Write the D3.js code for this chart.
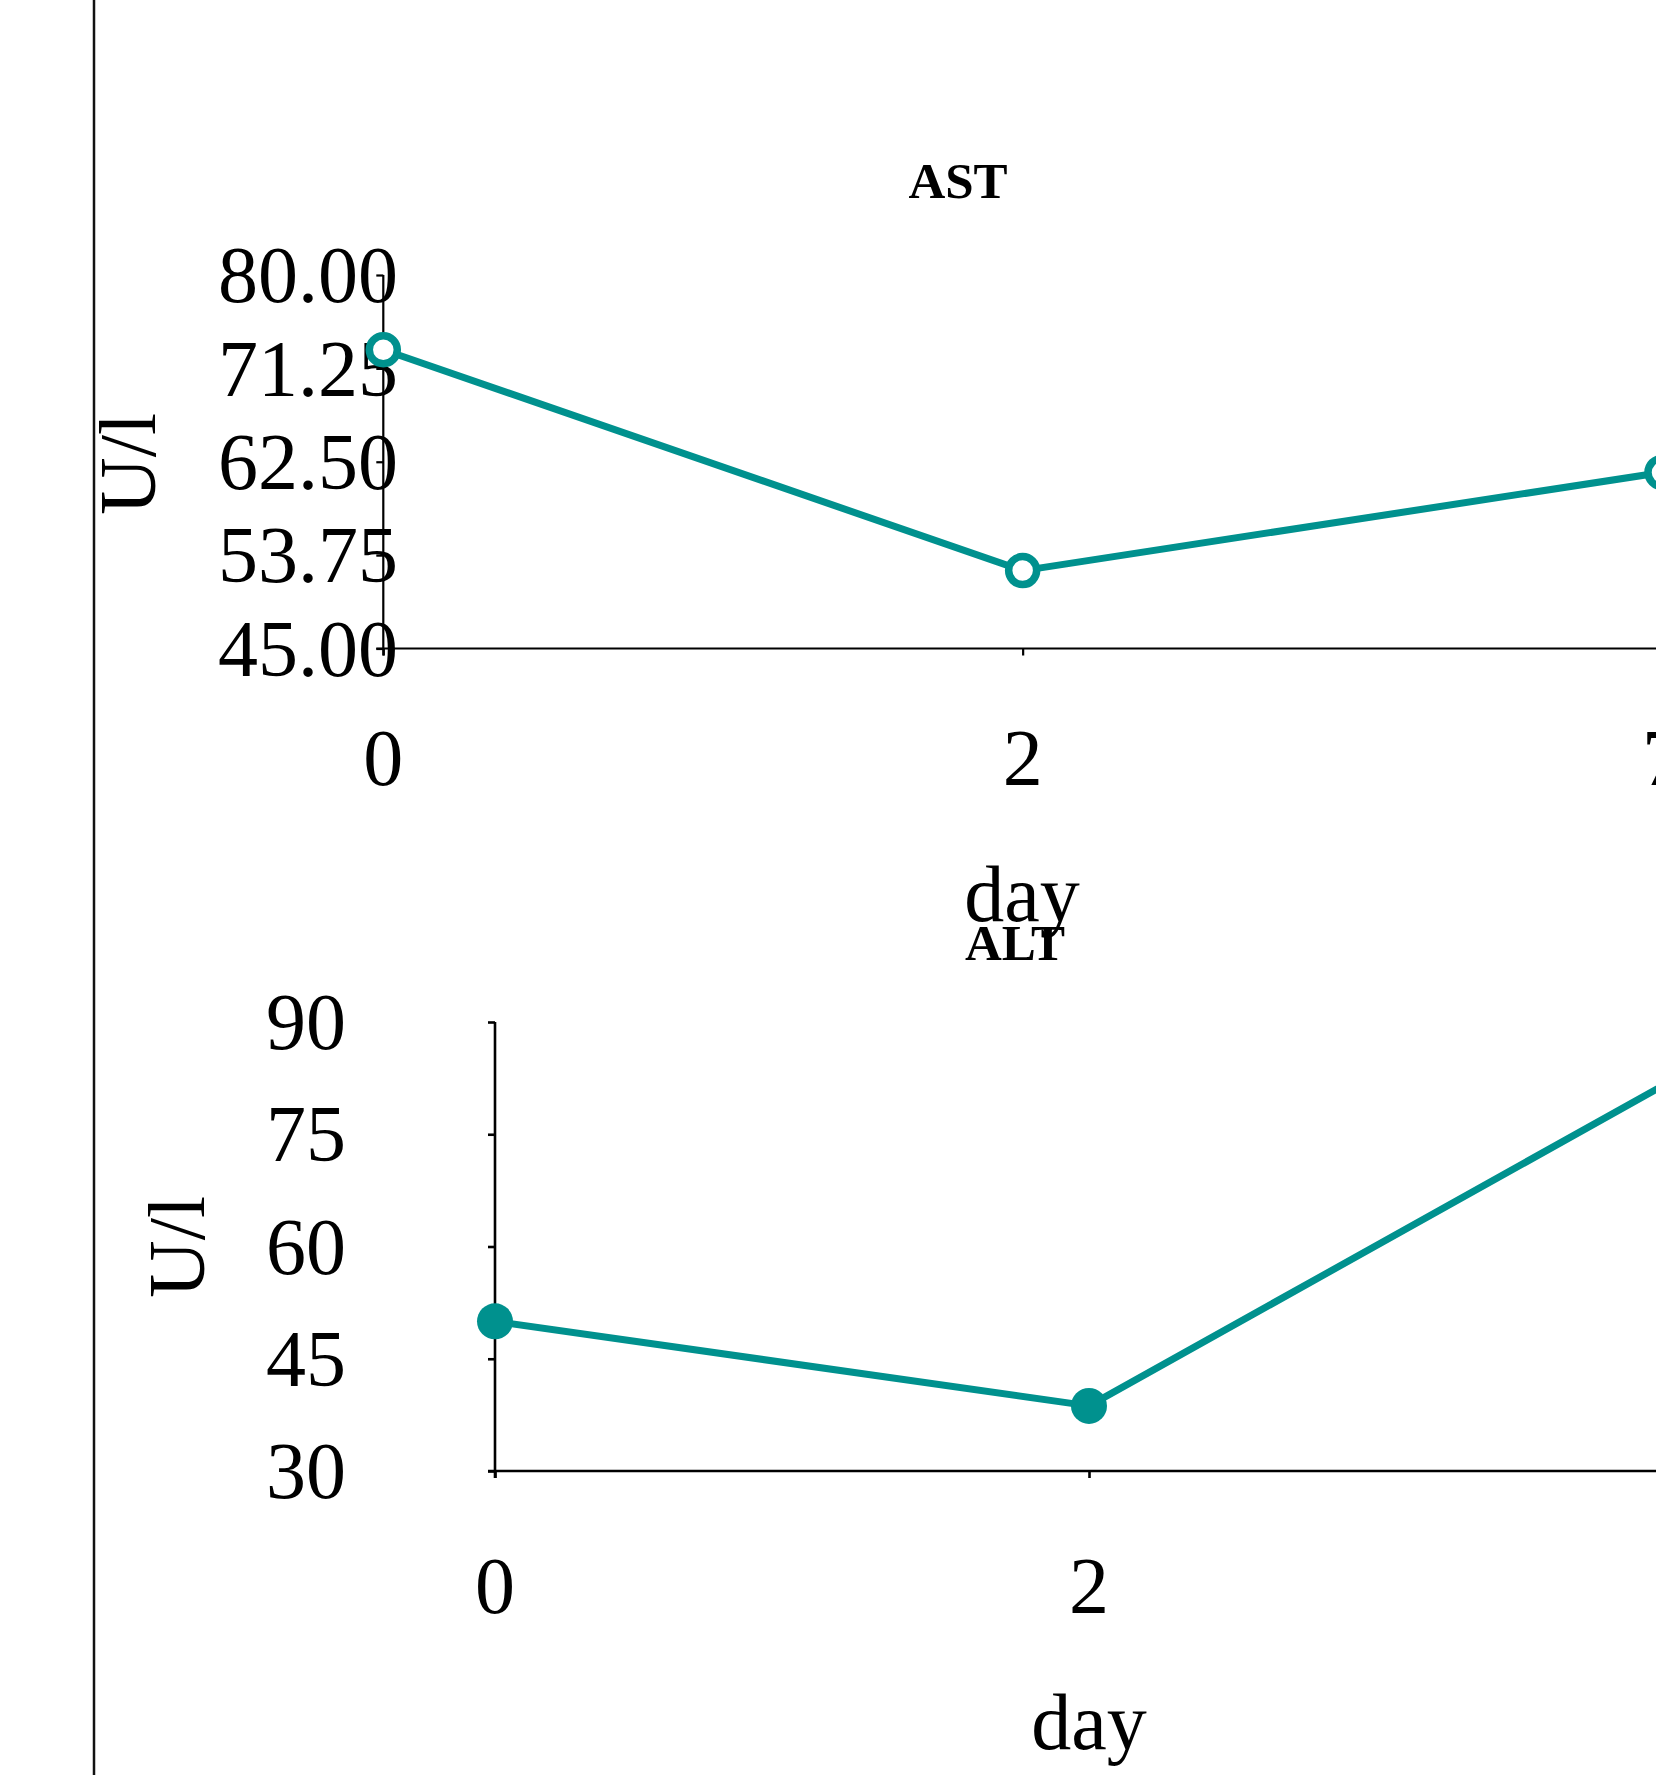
<!DOCTYPE html>
<html>
<head>
<meta charset="utf-8">
<script src="https://cdn.jsdelivr.net/npm/d3@7/dist/d3.min.js"></script>
<style>
  html, body { margin: 0; padding: 0; background: #ffffff; overflow: hidden; }
  svg { display: block; }
  text { font-family: "Liberation Serif", "Times New Roman", serif; fill: #000; }
</style>
</head>
<body>
<svg id="chart" width="1656" height="1775"></svg>
<script>
// Sampling days (categorical x positions)
const days = ["0", "2", "7"];

// AST (U/l) per day
const astValues = [73.0, 52.3, 61.5];
const astTicks = [45.00, 53.75, 62.50, 71.25, 80.00];

// ALT (U/l) per day
const altValues = [50.0, 38.7, 83.0];
const altTicks = [30, 45, 60, 75, 90];

const teal = "#00918e";
const svg = d3.select("#chart");

// Panel separator line on the left
svg.append("line")
  .attr("x1", 94).attr("x2", 94)
  .attr("y1", 0).attr("y2", 1775)
  .attr("stroke", "#111").attr("stroke-width", 2.5);

function panel(cfg) {
  const g = svg.append("g");
  const x = d3.scalePoint().domain(days).range(cfg.xRange);
  const y = d3.scaleLinear().domain(cfg.yDomain).range(cfg.yRange);

  // y axis
  const yAxis = d3.axisLeft(y).tickValues(cfg.yTicks).tickSize(7).tickFormat("");
  const ya = g.append("g").attr("transform", `translate(${cfg.xRange[0]},0)`).call(yAxis);
  ya.selectAll("path,line").attr("stroke", "#000").attr("stroke-width", cfg.axisWidth);
  ya.select(".domain").attr("d", `M0,${cfg.yRange[1]}V${cfg.yRange[0] + 7}`);

  // y tick labels
  g.append("g").selectAll("text").data(cfg.yTicks).join("text")
    .attr("x", cfg.yLabelX)
    .attr("y", d => y(d))
    .attr("dy", "0.34em")
    .attr("text-anchor", "end")
    .style("font-size", "80px")
    .text(cfg.yFormat);

  // x axis
  const xAxis = d3.axisBottom(x).tickSize(7).tickFormat("");
  const xa = g.append("g").attr("transform", `translate(0,${cfg.yRange[0]})`).call(xAxis);
  xa.selectAll("path,line").attr("stroke", "#000").attr("stroke-width", cfg.axisWidth);
  xa.select(".domain").attr("d", `M${cfg.xRange[0] - 7},0H1700`);

  // x tick labels
  g.append("g").selectAll("text").data(days).join("text")
    .attr("x", d => x(d))
    .attr("y", cfg.xLabelY)
    .attr("text-anchor", "middle")
    .style("font-size", "80px")
    .text(d => d);

  // axis titles
  g.append("text")
    .attr("x", cfg.dayX).attr("y", cfg.dayY)
    .attr("text-anchor", "middle")
    .style("font-size", "80px")
    .text("day");

  g.append("text")
    .attr("transform", `translate(${cfg.unitX},${cfg.unitY}) rotate(-90)`)
    .attr("text-anchor", "middle")
    .style("font-size", "80px")
    .text("U/l");

  // chart title
  g.append("text")
    .attr("x", cfg.titleX).attr("y", cfg.titleY)
    .attr("text-anchor", "middle")
    .style("font-size", "51px")
    .style("font-weight", "bold")
    .text(cfg.title);

  // series line
  const line = d3.line().x((d, i) => x(days[i])).y(d => y(d));
  g.append("path")
    .datum(cfg.values)
    .attr("d", line)
    .attr("fill", "none")
    .attr("stroke", teal)
    .attr("stroke-width", 7)
    .attr("stroke-linejoin", "round");

  // markers
  g.append("g").selectAll("circle").data(cfg.values).join("circle")
    .attr("cx", (d, i) => x(days[i]))
    .attr("cy", d => y(d))
    .attr("r", cfg.open ? 14 : 18)
    .attr("fill", cfg.open ? "#fff" : teal)
    .attr("stroke", teal)
    .attr("stroke-width", cfg.open ? 7.5 : 0);
}

panel({
  title: "AST",
  values: astValues,
  yTicks: astTicks,
  yDomain: [45, 80],
  yRange: [648.5, 275],
  xRange: [383.3, 1662],
  yLabelX: 398,
  yFormat: d => d3.format(".2f")(d),
  xLabelY: 785,
  dayX: 1022, dayY: 921,
  unitX: 155, unitY: 464,
  titleX: 958, titleY: 198,
  axisWidth: 2.2,
  open: true
});

panel({
  title: "ALT",
  values: altValues,
  yTicks: altTicks,
  yDomain: [30, 90],
  yRange: [1471, 1022],
  xRange: [495, 1683],
  yLabelX: 346,
  yFormat: d => d3.format("d")(d),
  xLabelY: 1613,
  dayX: 1089, dayY: 1749,
  unitX: 204, unitY: 1247,
  titleX: 1015, titleY: 960,
  axisWidth: 2.6,
  open: false
});
</script>
</body>
</html>
